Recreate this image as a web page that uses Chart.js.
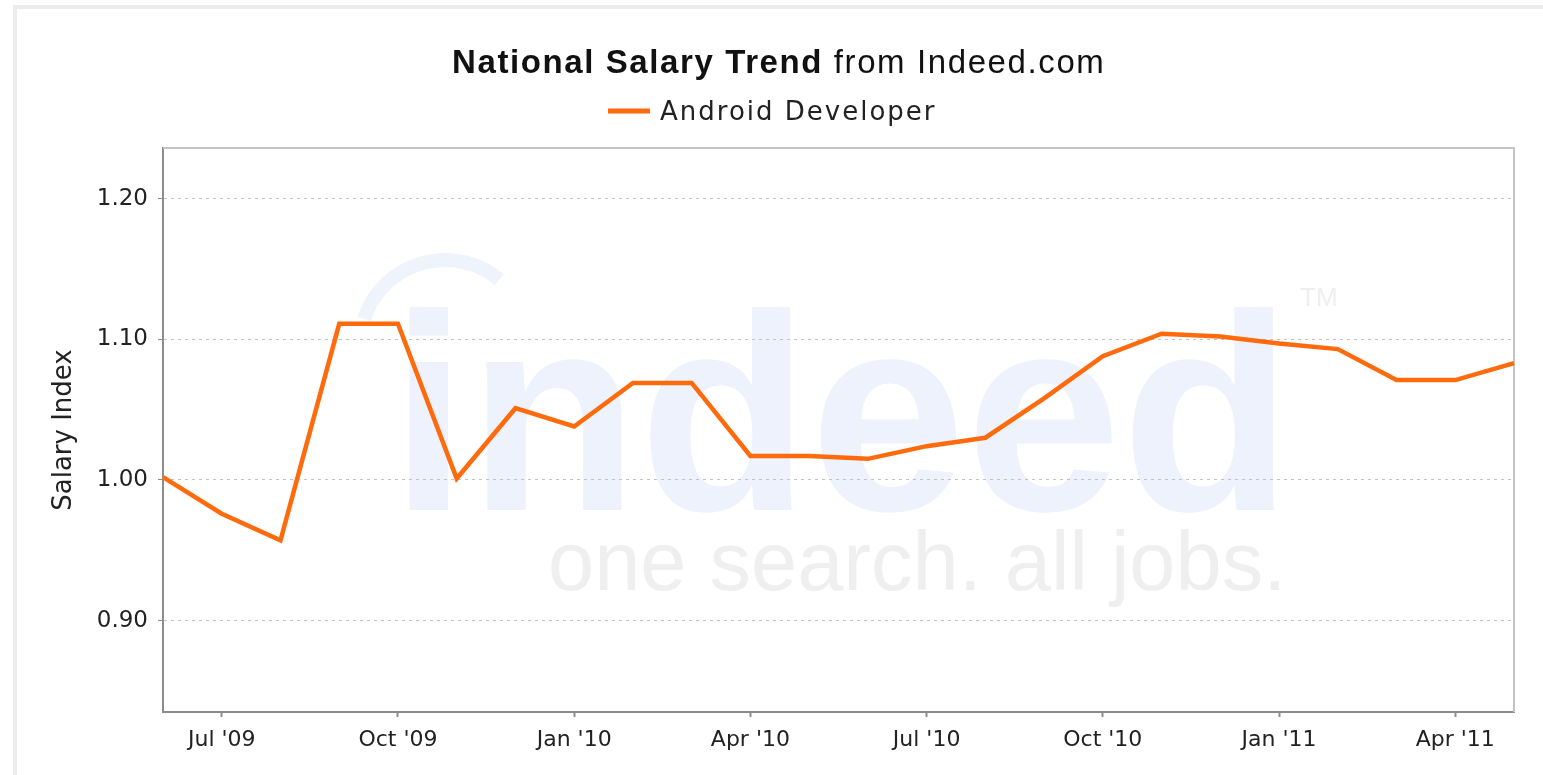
<!DOCTYPE html>
<html>
<head>
<meta charset="utf-8">
<script src="https://cdn.jsdelivr.net/npm/chart.js@4/dist/chart.umd.min.js"></script>
<style>
  html, body { margin: 0; padding: 0; background: #fff; }
  #frame { position: absolute; left: 13px; top: 5px; width: 1530px; height: 770px;
           border-left: 4px solid #ececec; border-top: 4px solid #ececec; }
  #wrap { position: absolute; left: 0; top: 0; width: 1543px; height: 775px; }
</style>
</head>
<body>
<div id="frame"></div>
<div id="wrap"><canvas id="salary"></canvas></div>
<script>
// months Jun '09 .. May '11
var categories = ["Jun '09", "Jul '09", "Aug '09", "Sep '09", "Oct '09", "Nov '09", "Dec '09",
  "Jan '10", "Feb '10", "Mar '10", "Apr '10", "May '10", "Jun '10", "Jul '10", "Aug '10",
  "Sep '10", "Oct '10", "Nov '10", "Dec '10", "Jan '11", "Feb '11", "Mar '11", "Apr '11", "May '11"];

var androidDev = [1.002, 0.976, 0.957, 1.111, 1.111, 1.001, 1.051, 1.038, 1.069, 1.069, 1.017, 1.017,
  1.015, 1.024, 1.030, 1.058, 1.088, 1.104, 1.102, 1.097, 1.093, 1.071, 1.071, 1.083];

var yTicks = [0.90, 1.00, 1.10, 1.20];
var shownMonths = ["Jan", "Apr", "Jul", "Oct"];

var seriesName = 'Android Developer';
var titleBold = 'National Salary Trend';
var titleRest = ' from Indeed.com';

function isShown(i) {
    return shownMonths.indexOf(categories[i].slice(0, 3)) >= 0;
}

function spacedText(ctx, txt, x, y, spacing) {
    ctx.letterSpacing = spacing + 'px';
    ctx.fillText(txt, x, y);
    return ctx.measureText(txt).width;
}

// watermark behind the grid
var watermark = {
    id: 'watermark',
    beforeDraw: function(chart) {
        var ctx = chart.ctx;
        ctx.save();
        ctx.fillStyle = '#edf2fc';
        ctx.font = 'bold 280px "Liberation Sans"';
        ctx.textBaseline = 'alphabetic';
        ctx.fillText('indeed', 390, 510);
        ctx.strokeStyle = '#eef3fc';
        ctx.lineWidth = 14;
        ctx.beginPath();
        ctx.arc(445, 345, 85, Math.PI * 1.1, Math.PI * 1.72);
        ctx.stroke();
        ctx.fillStyle = '#efefef';
        ctx.font = '26px "Liberation Sans"';
        ctx.fillText('TM', 1300, 306);
        ctx.font = '83px "Liberation Sans"';
        ctx.fillText('one search. all jobs.', 548, 590);
        ctx.restore();
    }
};

// title, legend and the light top/right frame of the plot
var header = {
    id: 'header',
    beforeDatasetsDraw: function(chart) {
        var a = chart.chartArea, ctx = chart.ctx;
        ctx.save();
        ctx.strokeStyle = '#c4c4c4';
        ctx.lineWidth = 2;
        ctx.beginPath();
        ctx.moveTo(a.left, a.top);
        ctx.lineTo(a.right, a.top);
        ctx.lineTo(a.right, a.bottom);
        ctx.stroke();
        ctx.restore();
    },
    afterDraw: function(chart) {
        var ctx = chart.ctx;
        var ds = chart.data.datasets[0];
        ctx.save();
        ctx.fillStyle = '#111';
        ctx.textBaseline = 'alphabetic';
        ctx.font = 'bold 33px "Liberation Sans"';
        var w = spacedText(ctx, titleBold, 452, 73, 1.6);
        ctx.font = '33px "Liberation Sans"';
        spacedText(ctx, titleRest, 452 + w, 73, 1.6);

        ctx.strokeStyle = ds.borderColor;
        ctx.lineWidth = 5;
        ctx.beginPath();
        ctx.moveTo(608, 111);
        ctx.lineTo(650, 111);
        ctx.stroke();
        ctx.fillStyle = '#222';
        ctx.font = '26px "DejaVu Sans"';
        spacedText(ctx, ds.label, 660, 120, 2);
        ctx.restore();
    }
};

var ctx = document.getElementById('salary');

var chartGraph = new Chart(ctx, {
    type: 'line',
    data: {
        labels: categories,
        datasets: [{
            label: seriesName,
            data: androidDev,
            borderColor: '#ff6a0d',
            borderWidth: 4.5,
            pointRadius: 0,
            tension: 0,
            fill: false
        }]
    },
    plugins: [watermark, header],
    options: {
        responsive: true,
        maintainAspectRatio: false,
        animation: false,
        layout: {
            padding: { top: 148, right: 29, bottom: 0, left: 0 }
        },
        plugins: {
            legend: { display: false },
            title: { display: false },
            tooltip: { enabled: false }
        },
        scales: {
            x: {
                type: 'category',
                offset: false,
                afterFit: function(scale) { scale.height = 63; },
                border: { color: '#8c8c8c', width: 2 },
                grid: {
                    drawOnChartArea: false,
                    tickLength: 5,
                    tickWidth: 2,
                    tickColor: function(c) { return isShown(c.index) ? '#8c8c8c' : 'rgba(0,0,0,0)'; }
                },
                ticks: {
                    autoSkip: false,
                    maxRotation: 0,
                    padding: 10,
                    color: '#222',
                    font: { family: '"DejaVu Sans"', size: 22 },
                    callback: function(value, index) {
                        return isShown(index) ? categories[index] : '';
                    }
                }
            },
            y: {
                min: 0.835,
                max: 1.236,
                afterFit: function(scale) { scale.width = 163; },
                afterBuildTicks: function(scale) {
                    scale.ticks = yTicks.map(function(v) { return { value: v }; });
                },
                border: { color: '#8c8c8c', width: 2, dash: [3, 4] },
                grid: {
                    color: '#c2c2c2',
                    lineWidth: 1,
                    tickLength: 5,
                    tickColor: '#8c8c8c',
                    tickBorderDash: []
                },
                ticks: {
                    padding: 10,
                    color: '#222',
                    font: { family: '"DejaVu Sans"', size: 23 },
                    callback: function(value) { return value.toFixed(2); }
                },
                title: {
                    display: true,
                    text: 'Salary Index',
                    color: '#222',
                    padding: { top: 49, bottom: 0 },
                    font: { family: '"DejaVu Sans"', size: 26 }
                }
            }
        }
    }
});
</script>
</body>
</html>
